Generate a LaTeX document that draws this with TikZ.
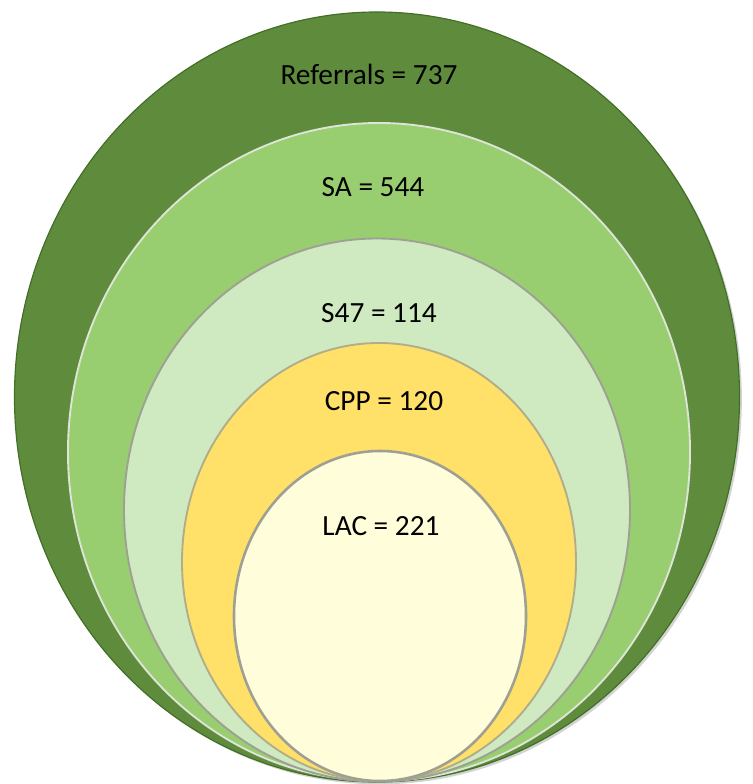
\documentclass[tikz,border=0pt]{standalone}
\usepackage{fontspec}
\setmainfont{Carlito}
\usetikzlibrary{shapes.geometric, shadows, positioning}
\definecolor{ringDark}{RGB}{94, 140, 60}
\definecolor{ringDarkEdge}{RGB}{66, 110, 38}
\definecolor{ringMid}{RGB}{152, 206, 112}
\definecolor{ringLight}{RGB}{207, 234, 192}
\definecolor{ringYellow}{RGB}{255, 224, 104}
\definecolor{ringCream}{RGB}{255, 253, 218}
\definecolor{ringGrey}{RGB}{158, 160, 148}
\definecolor{ringPale}{RGB}{222, 228, 215}

\begin{document}
\begin{tikzpicture}[
        x=0.03cm, y=-0.03cm,
        ring/.style={ellipse, inner sep=0pt, line width=1.6pt, draw=ringGrey},
        lbl/.style={font=\fontsize{25}{30}\selectfont, text=black}
    ]
        \useasboundingbox (0,0) rectangle (752,784);

        % nested sets, largest first
        \node[ring, fill=ringDark, draw=ringDarkEdge, line width=1pt,
              drop shadow={opacity=0.35, shadow xshift=2pt, shadow yshift=-2pt},
              minimum width=21.75cm, minimum height=23.1cm] (ref) at (377,397) {};
        \node[ring, fill=ringMid, draw=ringPale, minimum width=18.66cm, minimum height=19.74cm] (sa) at (379,452) {};
        \node[ring, fill=ringLight, minimum width=15.18cm, minimum height=16.29cm] (sfs) at (377,510) {};
        \node[ring, fill=ringYellow, draw=ringGrey!80!ringYellow, minimum width=11.82cm, minimum height=13.14cm] (cpp) at (379,562) {};
        \node[ring, fill=ringCream, line width=2.2pt, minimum width=8.76cm, minimum height=9.9cm] (lac) at (380,616) {};

        % counts
        \node[lbl] (refTxt) at (369,74) {Referrals = 737};
        \node[lbl] (saTxt) at (373,187) {SA = 544};
        \node[lbl] (sfsTxt) at (379,313) {S47 = 114};
        \node[lbl] (cppTxt) at (384,401) {CPP = 120};
        \node[lbl] (lacTxt) at (381,526) {LAC = 221};
    \end{tikzpicture}
\end{document}
